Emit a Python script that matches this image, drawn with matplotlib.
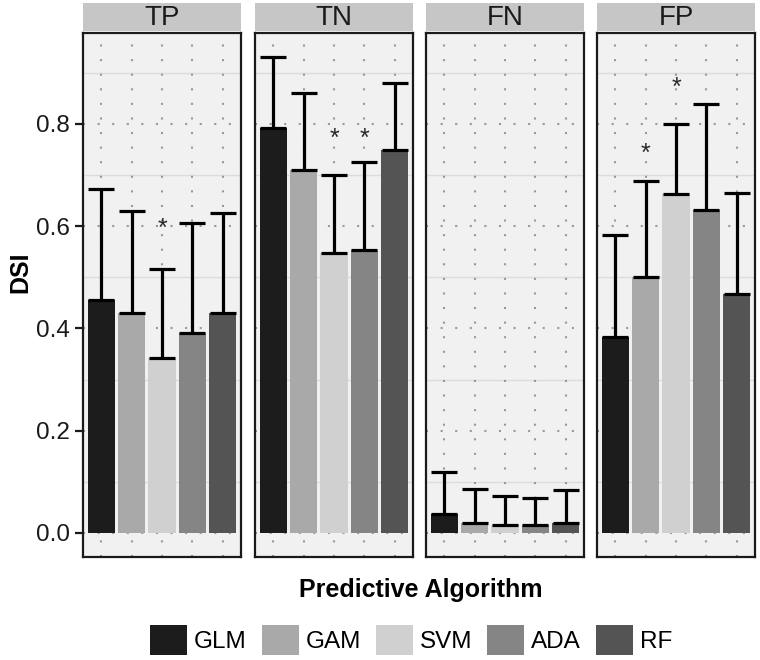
import matplotlib
matplotlib.use("Agg")
import matplotlib.pyplot as plt
from matplotlib.patches import Patch
import numpy as np

plt.rcParams['font.family'] = ['Liberation Sans', 'DejaVu Sans']

# data
panels = ['TP', 'TN', 'FN', 'FP']
algorithms = ['GLM', 'GAM', 'SVM', 'ADA', 'RF']
colors = ['#1c1c1c', '#a9a9a9', '#d0d0d0', '#858585', '#545454']

dsi_tp = [0.455, 0.431, 0.342, 0.392, 0.431]
dsi_tn = [0.792, 0.710, 0.547, 0.553, 0.749]
dsi_fn = [0.037, 0.020, 0.016, 0.016, 0.020]
dsi_fp = [0.384, 0.500, 0.664, 0.631, 0.468]

upper_tp = [0.673, 0.629, 0.516, 0.606, 0.625]
upper_tn = [0.931, 0.861, 0.700, 0.725, 0.880]
upper_fn = [0.120, 0.086, 0.073, 0.069, 0.084]
upper_fp = [0.582, 0.689, 0.800, 0.839, 0.665]

# significance asterisks: (algorithm index, y position)
stars_tp = [(2, 0.594)]
stars_tn = [(2, 0.770), (3, 0.770)]
stars_fn = []
stars_fp = [(1, 0.741), (2, 0.870)]

values = [dsi_tp, dsi_tn, dsi_fn, dsi_fp]
uppers = [upper_tp, upper_tn, upper_fn, upper_fp]
stars = [stars_tp, stars_tn, stars_fn, stars_fp]

W, H = 760, 660
fig = plt.figure(figsize=(W / 100, H / 100), dpi=100)

panel_left = [83, 255, 426, 597]
panel_w = 158
panel_bottom, panel_top = 557, 33
strip_top, strip_bottom = 3, 31

x = np.arange(len(algorithms))
for i, name in enumerate(panels):
    ax = fig.add_axes([panel_left[i] / W, (H - panel_bottom) / H,
                       panel_w / W, (panel_bottom - panel_top) / H])
    ax.set_facecolor('#f1f1f1')
    ax.set_xlim(-0.6, 4.6)
    ax.set_ylim(-0.047, 0.978)

    # grid: faint minor lines, dotted major lines
    for yv in [0.1, 0.3, 0.5, 0.7, 0.9]:
        ax.axhline(yv, color='#dcdcdc', lw=1.0, zorder=0)
    for yv in [0.0, 0.2, 0.4, 0.6, 0.8]:
        ax.axhline(yv, color='#999999', lw=1.5, ls=(0, (1, 6)), zorder=0.5)
    for xv in x:
        ax.axvline(xv, color='#999999', lw=1.5, ls=(0, (1, 6)), zorder=0.5)

    ax.bar(x, values[i], width=0.9, color=colors, zorder=2)
    ax.vlines(x, values[i], uppers[i], color='black', lw=2.3, zorder=3)
    ax.hlines(values[i], x - 0.43, x + 0.43, color='black', lw=2.3, zorder=3)
    ax.hlines(uppers[i], x - 0.43, x + 0.43, color='black', lw=2.3, zorder=3)

    for k, ys in stars[i]:
        ax.text(k, ys, '*', ha='center', va='center', fontsize=18,
                color='#2a2a2a', zorder=4)

    ax.set_xticks([])
    for sp in ax.spines.values():
        sp.set_color('#1a1a1a')
        sp.set_linewidth(1.6)
    if i == 0:
        ax.set_yticks([0.0, 0.2, 0.4, 0.6, 0.8])
        ax.set_yticklabels(['0.0', '0.2', '0.4', '0.6', '0.8'])
        ax.tick_params(axis='y', labelsize=17.5, length=5.5, width=1.6,
                       colors='#1a1a1a', pad=4)
    else:
        ax.set_yticks([])

    # facet strip
    sax = fig.add_axes([panel_left[i] / W, (H - strip_bottom) / H,
                        panel_w / W, (strip_bottom - strip_top) / H])
    sax.set_facecolor('#c6c6c6')
    sax.set_xticks([])
    sax.set_yticks([])
    for sp in sax.spines.values():
        sp.set_visible(False)
    sax.text(0.5, 0.45, name, ha='center', va='center', fontsize=20,
             color='#1a1a1a', transform=sax.transAxes)

fig.text(0.027, 0.588, 'DSI', rotation=90, ha='center', va='center',
         fontsize=18, fontweight='bold')
fig.text(0.554, 0.106, 'Predictive Algorithm', ha='center', va='center',
         fontsize=18, fontweight='bold')

handles = [Patch(facecolor=c, edgecolor='none') for c in colors]
fig.legend(handles, algorithms, loc='center', bbox_to_anchor=(0.541, 0.030),
           ncol=5, frameon=False, fontsize=17.5, handlelength=1.52,
           handleheight=1.52, handletextpad=0.28, columnspacing=0.62,
           borderaxespad=0)

fig.savefig('out.png', dpi=100)
